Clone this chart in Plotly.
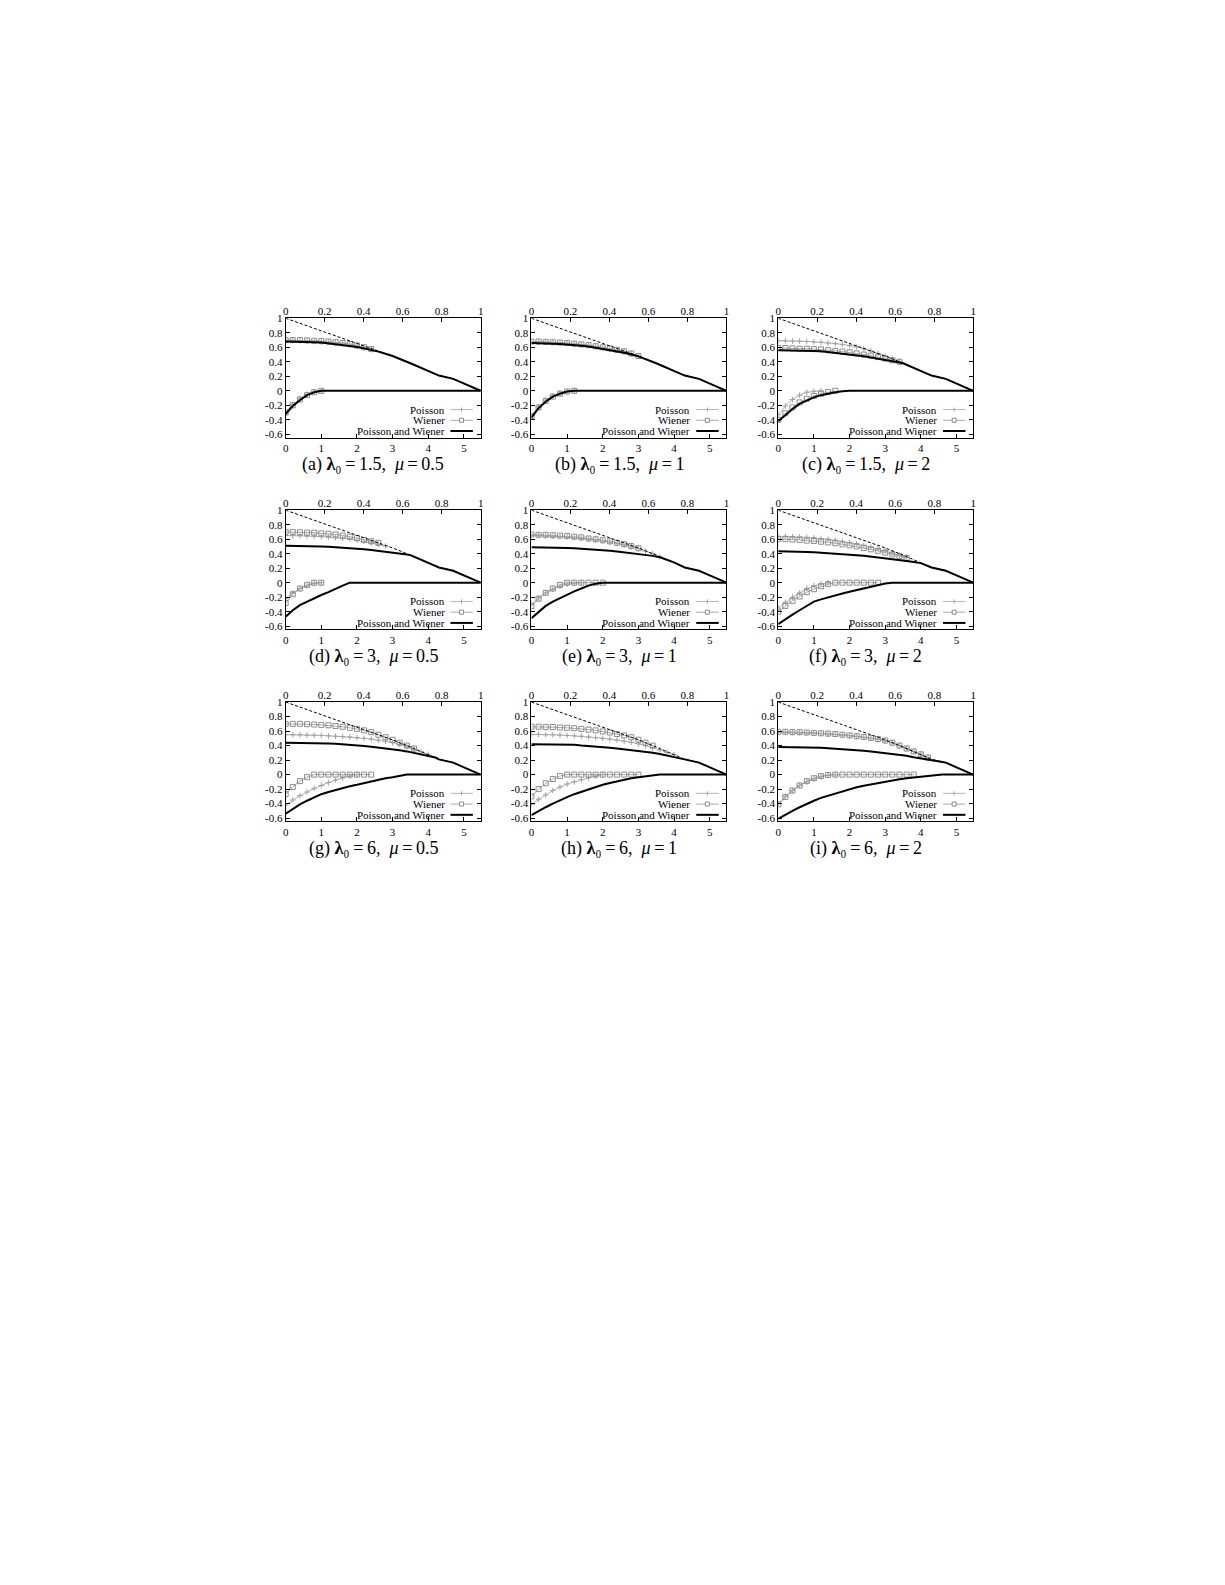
import plotly.graph_objects as go

# ---------------- data ----------------
G = [0.0, 0.2, 0.4, 0.6, 0.8, 1.0, 1.2, 1.4, 1.6, 1.8, 2.0, 2.2, 2.4, 2.6,
     2.8, 3.0, 3.2, 3.4, 3.6, 3.8, 4.0, 4.2, 4.4, 4.6, 4.8, 5.0, 5.2, 5.4]

# common right-hand straight part (bottom axis units)
DIAG_X = [3.0, 3.5, 4.0, 4.3, 4.7, 5.0, 5.47]
DIAG_Y = [0.48, 0.38, 0.28, 0.21, 0.165, 0.10, 0.0]
# dashed reference line (top axis units)
DASH_T = [0.0, 0.548, 0.64, 0.731, 0.786, 0.859, 0.914, 1.0]
DASH_Y = [1.0, 0.48, 0.38, 0.28, 0.21, 0.165, 0.10, 0.0]

X_END = 5.47
X_TICKS = [0, 1, 2, 3, 4, 5]
X2_TICKS = [0, 0.2, 0.4, 0.6, 0.8, 1]
X2_TEXT = ['0', '0.2', '0.4', '0.6', '0.8', '1']
Y_TICKS = [-0.6, -0.4, -0.2, 0, 0.2, 0.4, 0.6, 0.8, 1]
Y_TEXT = ['-0.6', '-0.4', '-0.2', '0', '0.2', '0.4', '0.6', '0.8', '1']

LETTERS = ['a', 'b', 'c', 'd', 'e', 'f', 'g', 'h', 'i']
LAMBDA0 = ['1.5', '1.5', '1.5', '3', '3', '3', '6', '6', '6']
MU = ['0.5', '1', '2', '0.5', '1', '2', '0.5', '1', '2']
SERIES = ['Poisson', 'Wiener', 'Poisson and Wiener']

# pu = Poisson upper, wu = Wiener upper, su = Poisson and Wiener upper,
# pl / wl / sl = lower branches; values on grid G
a_pu = [0.69, 0.69, 0.69, 0.685, 0.68, 0.675, 0.67, 0.66, 0.65, 0.635, 0.615, 0.595, 0.57]
a_wu = [0.70, 0.70, 0.70, 0.695, 0.69, 0.685, 0.68, 0.67, 0.66, 0.645, 0.625, 0.60, 0.575]
a_su = [0.68, 0.68, 0.675, 0.675, 0.67, 0.665, 0.655, 0.645, 0.635, 0.62, 0.605, 0.585, 0.565, 0.54, 0.51, 0.48]
a_pl = [-0.29, -0.19, -0.11, -0.05, -0.015, 0.0]
a_wl = [-0.30, -0.20, -0.12, -0.06, -0.02, 0.0]
a_sl = [-0.32, -0.21, -0.13, -0.06, -0.02, 0.0]

b_pu = [0.675, 0.675, 0.67, 0.665, 0.66, 0.655, 0.645, 0.635, 0.625, 0.61, 0.595, 0.58, 0.56, 0.54, 0.51, 0.48]
b_wu = [0.68, 0.68, 0.675, 0.67, 0.665, 0.66, 0.65, 0.64, 0.63, 0.615, 0.60, 0.585, 0.565, 0.545, 0.515, 0.48]
b_su = [0.66, 0.66, 0.655, 0.65, 0.645, 0.64, 0.63, 0.62, 0.61, 0.595, 0.58, 0.565, 0.545, 0.525, 0.50, 0.475]
b_pl = [-0.34, -0.22, -0.13, -0.07, -0.03, -0.01, 0.0]
b_wl = [-0.35, -0.23, -0.14, -0.08, -0.04, -0.01, 0.0]
b_sl = [-0.37, -0.24, -0.15, -0.08, -0.04, -0.01, 0.0]

c_pu = [0.69, 0.69, 0.685, 0.685, 0.68, 0.675, 0.67, 0.66, 0.65, 0.64, 0.625, 0.605, 0.58, 0.55, 0.515, 0.48, 0.445, 0.405]
c_wu = [0.59, 0.59, 0.585, 0.58, 0.58, 0.575, 0.57, 0.56, 0.55, 0.54, 0.53, 0.515, 0.50, 0.485, 0.465, 0.445, 0.42, 0.40]
c_su = [0.56, 0.56, 0.56, 0.555, 0.55, 0.55, 0.545, 0.535, 0.525, 0.515, 0.505, 0.49, 0.475, 0.46, 0.445, 0.43, 0.41, 0.39]
c_pl = [-0.33, -0.21, -0.12, -0.06, -0.02, -0.005, 0.0]
c_wl = [-0.40, -0.31, -0.23, -0.16, -0.11, -0.07, -0.04, -0.015, 0.0]
c_sl = [-0.42, -0.33, -0.25, -0.18, -0.13, -0.09, -0.06, -0.035, -0.02, -0.005, 0.0]

d_pu = [0.65, 0.65, 0.65, 0.645, 0.64, 0.635, 0.63, 0.62, 0.61, 0.60, 0.585, 0.57, 0.55, 0.53, 0.505]
d_wu = [0.70, 0.70, 0.695, 0.69, 0.69, 0.68, 0.675, 0.665, 0.65, 0.635, 0.615, 0.59, 0.57, 0.55]
d_su = [0.51, 0.51, 0.51, 0.505, 0.50, 0.50, 0.495, 0.49, 0.485, 0.475, 0.47, 0.46, 0.45, 0.44, 0.43, 0.415, 0.40, 0.39]
d_pl = [-0.22, -0.14, -0.08, -0.04, -0.01, 0.0]
d_wl = [-0.28, -0.16, -0.08, -0.03, 0.0, 0.0]
d_sl = [-0.47, -0.38, -0.31, -0.26, -0.21, -0.17, -0.13, -0.08, -0.04, 0.0]

e_pu = [0.65, 0.65, 0.645, 0.64, 0.635, 0.63, 0.62, 0.61, 0.60, 0.59, 0.575, 0.56, 0.54, 0.52, 0.495, 0.47, 0.435, 0.40, 0.36]
e_wu = [0.665, 0.66, 0.66, 0.655, 0.65, 0.645, 0.635, 0.625, 0.61, 0.60, 0.585, 0.57, 0.55, 0.53, 0.505, 0.475]
e_su = [0.49, 0.49, 0.49, 0.485, 0.48, 0.48, 0.475, 0.47, 0.46, 0.455, 0.45, 0.44, 0.43, 0.42, 0.41, 0.40, 0.385, 0.37, 0.35]
e_pl = [-0.30, -0.21, -0.14, -0.09, -0.05, -0.02, -0.005, 0.0]
e_wl = [-0.32, -0.22, -0.14, -0.08, -0.03, 0.0, 0.0, 0.0, 0.0, 0.0, 0.0]
e_sl = [-0.49, -0.40, -0.32, -0.26, -0.21, -0.17, -0.12, -0.08, -0.04, -0.015, 0.0]

f_pu = [0.64, 0.64, 0.635, 0.63, 0.625, 0.62, 0.61, 0.60, 0.585, 0.57, 0.555, 0.535, 0.515, 0.49, 0.465, 0.44, 0.41, 0.38, 0.35]
f_wu = [0.60, 0.60, 0.595, 0.59, 0.58, 0.575, 0.565, 0.555, 0.545, 0.53, 0.515, 0.50, 0.48, 0.46, 0.44, 0.415, 0.39, 0.365, 0.34]
f_su = [0.435, 0.435, 0.43, 0.43, 0.425, 0.42, 0.415, 0.41, 0.405, 0.40, 0.39, 0.38, 0.37, 0.36, 0.35, 0.34, 0.33, 0.315, 0.30, 0.285, 0.27]
f_pl = [-0.35, -0.27, -0.20, -0.14, -0.08, -0.04, -0.015, 0.0]
f_wl = [-0.40, -0.32, -0.25, -0.19, -0.13, -0.09, -0.05, -0.02, 0.0, 0.0, 0.0, 0.0, 0.0, 0.0, 0.0]
f_sl = [-0.57, -0.50, -0.44, -0.38, -0.32, -0.26, -0.23, -0.20, -0.175, -0.15, -0.125, -0.10, -0.075, -0.05, -0.03, -0.01, 0.0]

g_pu = [0.55, 0.55, 0.55, 0.545, 0.545, 0.54, 0.535, 0.53, 0.525, 0.52, 0.51, 0.50, 0.49, 0.475, 0.46, 0.44, 0.415, 0.385, 0.35, 0.315, 0.28]
g_wu = [0.70, 0.70, 0.70, 0.695, 0.69, 0.685, 0.68, 0.67, 0.66, 0.645, 0.63, 0.61, 0.585, 0.55, 0.515, 0.48, 0.44, 0.40, 0.36]
g_su = [0.44, 0.44, 0.44, 0.435, 0.435, 0.43, 0.43, 0.425, 0.42, 0.41, 0.40, 0.395, 0.385, 0.375, 0.36, 0.35, 0.335, 0.32, 0.30, 0.28, 0.26, 0.235]
g_pl = [-0.42, -0.35, -0.29, -0.24, -0.19, -0.15, -0.11, -0.075, -0.045, -0.02, 0.0]
g_wl = [-0.27, -0.17, -0.09, -0.035, 0.0, 0.0, 0.0, 0.0, 0.0, 0.0, 0.0, 0.0, 0.0]
g_sl = [-0.54, -0.47, -0.41, -0.36, -0.31, -0.27, -0.24, -0.21, -0.18, -0.16, -0.14, -0.115, -0.09, -0.07, -0.05, -0.035, -0.015, 0.0]

h_pu = [0.555, 0.555, 0.55, 0.55, 0.545, 0.54, 0.535, 0.53, 0.52, 0.51, 0.50, 0.49, 0.475, 0.46, 0.445, 0.425, 0.40, 0.37, 0.34, 0.305, 0.275]
h_wu = [0.66, 0.66, 0.655, 0.655, 0.65, 0.645, 0.64, 0.63, 0.62, 0.61, 0.595, 0.58, 0.56, 0.54, 0.515, 0.48, 0.44, 0.40]
h_su = [0.42, 0.42, 0.42, 0.415, 0.415, 0.41, 0.41, 0.40, 0.395, 0.39, 0.38, 0.37, 0.36, 0.35, 0.34, 0.33, 0.315, 0.30, 0.285, 0.265, 0.25, 0.23]
h_pl = [-0.41, -0.34, -0.28, -0.22, -0.17, -0.13, -0.10, -0.07, -0.045, -0.02, 0.0]
h_wl = [-0.30, -0.20, -0.12, -0.06, -0.02, 0.0, 0.0, 0.0, 0.0, 0.0, 0.0, 0.0, 0.0, 0.0, 0.0, 0.0]
h_sl = [-0.56, -0.50, -0.45, -0.40, -0.35, -0.31, -0.27, -0.235, -0.20, -0.17, -0.14, -0.115, -0.09, -0.07, -0.05, -0.035, -0.02, -0.01, 0.0]

i_pu = [0.58, 0.58, 0.58, 0.575, 0.575, 0.57, 0.565, 0.56, 0.555, 0.545, 0.535, 0.525, 0.515, 0.50, 0.485, 0.465, 0.44, 0.40, 0.36, 0.32, 0.28, 0.235]
i_wu = [0.59, 0.59, 0.585, 0.585, 0.58, 0.575, 0.57, 0.565, 0.56, 0.55, 0.54, 0.53, 0.52, 0.505, 0.49, 0.47, 0.44, 0.40, 0.36, 0.32, 0.28, 0.235]
i_su = [0.38, 0.38, 0.38, 0.375, 0.375, 0.37, 0.37, 0.365, 0.36, 0.355, 0.35, 0.34, 0.33, 0.32, 0.31, 0.30, 0.29, 0.275, 0.26, 0.24, 0.22, 0.205, 0.19, 0.175]
i_pl = [-0.40, -0.30, -0.22, -0.15, -0.10, -0.06, -0.03, -0.01, 0.0]
i_wl = [-0.41, -0.31, -0.22, -0.15, -0.09, -0.05, -0.02, -0.005, 0.0, 0.0, 0.0, 0.0, 0.0, 0.0, 0.0, 0.0, 0.0, 0.0, 0.0, 0.0]
i_sl = [-0.61, -0.55, -0.50, -0.45, -0.40, -0.36, -0.32, -0.29, -0.26, -0.23, -0.20, -0.175, -0.155, -0.135, -0.115, -0.095, -0.08, -0.065, -0.05, -0.04, -0.03, -0.02, -0.01, 0.0]

PANEL_DATA = {
    'a': (a_pu, a_wu, a_su, a_pl, a_wl, a_sl),
    'b': (b_pu, b_wu, b_su, b_pl, b_wl, b_sl),
    'c': (c_pu, c_wu, c_su, c_pl, c_wl, c_sl),
    'd': (d_pu, d_wu, d_su, d_pl, d_wl, d_sl),
    'e': (e_pu, e_wu, e_su, e_pl, e_wl, e_sl),
    'f': (f_pu, f_wu, f_su, f_pl, f_wl, f_sl),
    'g': (g_pu, g_wu, g_su, g_pl, g_wl, g_sl),
    'h': (h_pu, h_wu, h_su, h_pl, h_wl, h_sl),
    'i': (i_pu, i_wu, i_su, i_pl, i_wl, i_sl),
}

# ---------------- layout geometry (pixels) ----------------
W, H = 1225, 1585
COL_L = [276, 523, 771]
COL_W = 196
ROW_T = [306, 499, 692]
ROW_H = 120

FONT = 'Liberation Serif'
C_POI = '#b4b4b4'
C_WIE = '#8c8c8c'
C_WIE_LINE = '#a8a8a8'

fig = go.Figure()
shapes = []
annotations = []

for k, letter in enumerate(LETTERS):
    n = k + 1
    r, c = divmod(k, 3)
    xs_name = '' if n == 1 else str(n)
    x2n = n + 9
    xa, ya, x2a = f'x{xs_name}', f'y{xs_name}', f'x{x2n}'
    pu, wu, su, pl, wl, sl = PANEL_DATA[letter]

    # Poisson (upper & lower)
    for vals in (pu, pl):
        fig.add_trace(go.Scatter(
            x=G[:len(vals)], y=vals, xaxis=xa, yaxis=ya, mode='lines+markers',
            line=dict(color=C_POI, width=1),
            marker=dict(symbol='cross-thin', size=4, line=dict(color='#a0a0a0', width=1)),
            showlegend=False, hoverinfo='skip'))
    # Wiener
    for vals in (wu, wl):
        fig.add_trace(go.Scatter(
            x=G[:len(vals)], y=vals, xaxis=xa, yaxis=ya, mode='lines+markers',
            line=dict(color=C_WIE_LINE, width=1),
            marker=dict(symbol='square-open', size=5, color=C_WIE, line=dict(width=1)),
            showlegend=False, hoverinfo='skip'))
    # Poisson and Wiener (solid black): upper branch joins the common straight part
    last = G[len(su) - 1]
    sx = G[:len(su)] + [x for x in DIAG_X if x > last + 0.05]
    sy = su + [y for x, y in zip(DIAG_X, DIAG_Y) if x > last + 0.05]
    fig.add_trace(go.Scatter(x=sx, y=sy, xaxis=xa, yaxis=ya, mode='lines',
                             line=dict(color='black', width=2),
                             showlegend=False, hoverinfo='skip'))
    fig.add_trace(go.Scatter(x=G[:len(sl)] + [X_END], y=sl + [0.0], xaxis=xa, yaxis=ya,
                             mode='lines', line=dict(color='black', width=2),
                             showlegend=False, hoverinfo='skip'))
    # dashed line against the top axis
    fig.add_trace(go.Scatter(x=DASH_T, y=DASH_Y, xaxis=x2a, yaxis=ya, mode='lines',
                             line=dict(color='black', width=1, dash='3px,2px'),
                             showlegend=False, hoverinfo='skip'))

    L = COL_L[c]
    T = ROW_T[r]
    dom_x = [L / W, (L + COL_W) / W]
    dom_y = [1 - (T + ROW_H) / H, 1 - T / H]
    tf = dict(family=FONT, size=11, color='black')
    fig.layout[f'xaxis{xs_name}'] = dict(
        domain=dom_x, anchor=ya, range=[0, X_END], tickvals=X_TICKS,
        ticks='inside', ticklen=4, tickcolor='black', showline=True, linecolor='black',
        linewidth=1, mirror=True, showgrid=False, zeroline=False, tickfont=tf)
    fig.layout[f'xaxis{x2n}'] = dict(
        overlaying=xa, side='top', anchor=ya, range=[0, 1], tickvals=X2_TICKS,
        ticktext=X2_TEXT, ticks='inside', ticklen=4, tickcolor='black',
        showline=False, showgrid=False, zeroline=False, tickfont=tf)
    fig.layout[f'yaxis{xs_name}'] = dict(
        domain=dom_y, anchor=xa, range=[-0.645, 1.0], tickvals=Y_TICKS, ticktext=Y_TEXT,
        ticks='inside', ticklen=4, tickcolor='black', showline=True, linecolor='black',
        linewidth=1, mirror='ticks', showgrid=False, zeroline=False, tickfont=tf)

    # legend (gnuplot style: text then sample)
    xd, yd = f'{xa} domain', f'{ya} domain'
    rows_y = [0.235, 0.145, 0.055]
    for name, yy in zip(SERIES, rows_y):
        annotations.append(dict(text=name, x=0.825, y=yy, xref=xd, yref=yd,
                                xanchor='right', yanchor='middle', showarrow=False,
                                font=dict(family=FONT, size=11, color='black')))
    # Poisson sample: light line with a small plus
    shapes.append(dict(type='line', xref=xd, yref=yd, x0=0.845, x1=0.96,
                       y0=rows_y[0], y1=rows_y[0], line=dict(color=C_POI, width=1)))
    shapes.append(dict(type='line', xref=xd, yref=yd, x0=0.902, x1=0.902,
                       y0=rows_y[0] - 0.017, y1=rows_y[0] + 0.017,
                       line=dict(color='#a0a0a0', width=1)))
    # Wiener sample: line with an open square
    shapes.append(dict(type='line', xref=xd, yref=yd, x0=0.845, x1=0.96,
                       y0=rows_y[1], y1=rows_y[1], line=dict(color=C_WIE_LINE, width=1)))
    shapes.append(dict(type='rect', xref=xd, yref=yd, x0=0.892, x1=0.912,
                       y0=rows_y[1] - 0.017, y1=rows_y[1] + 0.017,
                       line=dict(color=C_WIE, width=1), fillcolor='white'))
    # Poisson and Wiener sample
    shapes.append(dict(type='line', xref=xd, yref=yd, x0=0.845, x1=0.96,
                       y0=rows_y[2], y1=rows_y[2], line=dict(color='black', width=2)))

    # caption
    cx = (L + COL_W / 2 - 10) / W
    cy = 1 - (T + ROW_H + 27) / H
    annotations.append(dict(
        text=(f'({letter}) <b>λ</b>\u2080\u2009=\u2009{LAMBDA0[k]},'
              f'\u2002<i>μ</i>\u2009=\u2009{MU[k]}'),
        x=cx, y=cy, xref='paper', yref='paper', xanchor='center', yanchor='middle',
        showarrow=False, font=dict(family=FONT, size=18, color='black')))

fig.update_layout(width=W, height=H, margin=dict(l=0, r=0, t=0, b=0),
                  paper_bgcolor='white', plot_bgcolor='white',
                  shapes=shapes, annotations=annotations, showlegend=False)

fig.write_html('out.html')
